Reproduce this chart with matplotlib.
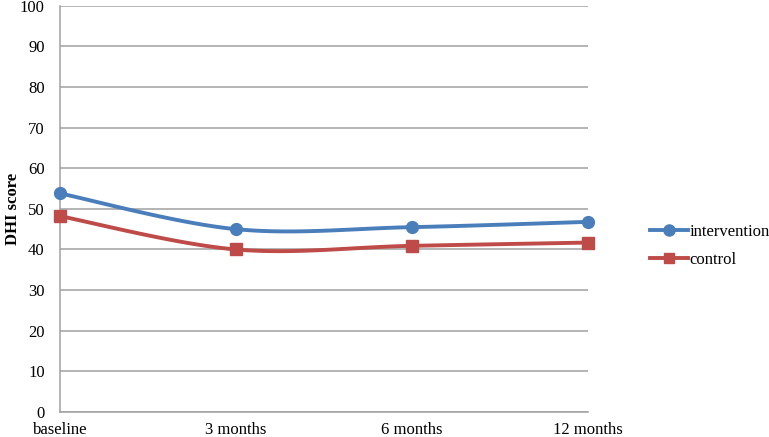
import numpy as np
import matplotlib
matplotlib.use('Agg')
import matplotlib.pyplot as plt

# data
timepoints = ['baseline', '3 months', '6 months', '12 months']
intervention = [53.8, 45.0, 45.5, 46.8]
control = [48.2, 40.0, 40.9, 41.7]

plt.rcParams['font.family'] = ['Liberation Serif', 'DejaVu Serif']


def smooth(xs, ys, n=40):
    # catmull-rom style smoothing, like excel's "smoothed line"
    xs = np.asarray(xs, float)
    ys = np.asarray(ys, float)
    px = np.concatenate([[xs[0]], xs, [xs[-1]]])
    py = np.concatenate([[ys[0]], ys, [ys[-1]]])
    outx, outy = [], []
    for i in range(1, len(px) - 2):
        p0 = np.array([px[i - 1], py[i - 1]])
        p1 = np.array([px[i], py[i]])
        p2 = np.array([px[i + 1], py[i + 1]])
        p3 = np.array([px[i + 2], py[i + 2]])
        c1 = p1 + (p2 - p0) / 6.0
        c2 = p2 - (p3 - p1) / 6.0
        t = np.linspace(0, 1, n)[:, None]
        b = ((1 - t) ** 3) * p1 + 3 * ((1 - t) ** 2) * t * c1 + 3 * (1 - t) * t ** 2 * c2 + t ** 3 * p2
        outx.extend(b[:, 0])
        outy.extend(b[:, 1])
    return outx, outy


fig = plt.figure(figsize=(7.69, 4.37), dpi=100)
ax = fig.add_axes([60 / 769, 25 / 437, 528 / 769, 406.3 / 437])

x = np.arange(len(timepoints))
blue = '#4A7EBB'
red = '#BE4B48'

sx, sy = smooth(x, intervention)
ax.plot(sx, sy, color=blue, lw=2.8, solid_capstyle='round', zorder=3, clip_on=False)
ax.plot(x, intervention, 'o', color=blue, ms=8.5, zorder=4, clip_on=False)
sx, sy = smooth(x, control)
ax.plot(sx, sy, color=red, lw=2.8, solid_capstyle='round', zorder=3, clip_on=False)
ax.plot(x, control, 's', color=red, ms=8, zorder=4, clip_on=False)

ax.set_xlim(0, 3)
ax.set_ylim(0, 100)
ax.set_yticks(range(0, 101, 10))
ax.set_xticks(x)
ax.set_xticklabels(timepoints)
ax.yaxis.grid(True, color='#A0A0A0', lw=1.1)
ax.set_axisbelow(True)
ax.tick_params(length=0, labelsize=12)
ax.tick_params(axis='y', pad=11)
ax.tick_params(axis='x', pad=7)
for s in ['top', 'right']:
    ax.spines[s].set_visible(False)
for s in ['left', 'bottom']:
    ax.spines[s].set_color('#A0A0A0')
    ax.spines[s].set_linewidth(1.1)

ax.set_ylabel('DHI score', fontsize=12, fontweight='bold')
ax.yaxis.set_label_coords(-0.074, 0.5)

h1 = plt.Line2D([], [], color=blue, lw=2.8, marker='o', ms=8)
h2 = plt.Line2D([], [], color=red, lw=2.8, marker='s', ms=7.5)
fig.legend([h1, h2], ['intervention', 'control'], loc='center left',
           bbox_to_anchor=(635 / 769, 1 - 246 / 437), frameon=False,
           fontsize=12, handlelength=2.3, handletextpad=0.05, labelspacing=0.75)

fig.savefig('out.png', dpi=100)
